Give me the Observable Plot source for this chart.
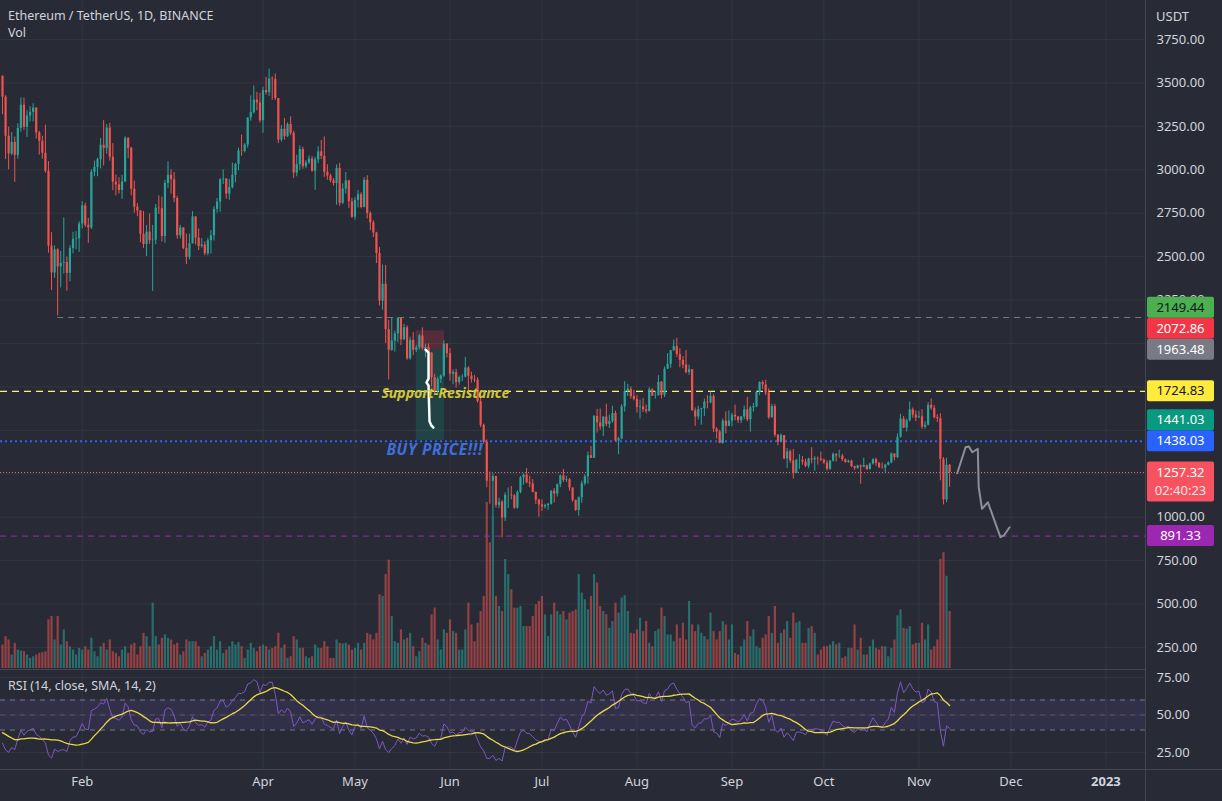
<!DOCTYPE html>
<html><head><meta charset="utf-8">
<script src="https://cdn.jsdelivr.net/npm/d3@7"></script>
<script src="https://cdn.jsdelivr.net/npm/@observablehq/plot@0.6"></script>
<style>
html,body{margin:0;padding:0;background:#282b36;}
#wrap{position:relative;width:1222px;height:801px;overflow:hidden;background:#282b36;font-family:"Noto Sans",sans-serif;color:#d1d4dc;}
#wrap > .layer{position:absolute;left:0;}
.lbl{position:absolute;font-size:12.5px;color:#d1d4dc;white-space:nowrap;}
.hline{position:absolute;background:#434651;}
.note-buy{letter-spacing:0.6px;}
</style></head>
<body><div id="wrap"></div>
<script>
// ---------------- DATA ----------------
// Daily candles ETH/USDT, 2022-01-06 .. 2022-11-11 (open = previous close)
const firstDate = "2022-01-06";
const warmupCloses = [4587,4519,4240,4101,4198,4347,4309,4433,4111,3895,4076,4135,3782,3862,4020,3963,3882,3960,3924,3938,4019,3979,4108,4047,4093,4062,4036,3792,3628,3713,3676,3765,3829,3761,3794,3538];
const closes = [
// Jan
3418,3193,3091,3157,3083,3238,3372,3245,3310,3331,3355,3212,3164,3095,2991,2561,2406,2539,2441,2461,2466,2404,2546,2600,2603,2688,
// Feb
2792,2680,2666,2986,3014,3058,3141,3122,3240,3072,2928,2913,2881,2931,3181,3123,2888,2785,2763,2628,2570,2641,2592,2595,2779,2776,2616,2921,
// Mar
2969,2943,2835,2620,2665,2547,2496,2574,2729,2607,2558,2567,2517,2592,2620,2772,2814,2942,2946,2860,2897,2968,3031,3108,3106,3142,3298,3329,3401,3385,3282,
// Apr
3456,3444,3522,3520,3410,3171,3233,3190,3261,3210,2981,3029,3117,3018,3040,3062,2992,3057,3103,3077,2986,2964,2937,2921,3008,2807,2889,2936,2816,2727,
// May
2824,2857,2783,2940,2748,2695,2636,2518,2244,2341,2080,1961,2014,2056,2145,2022,2091,1912,2018,1961,1975,2043,1972,1978,1945,1803,1725,1794,1812,1996,1942,
// Jun
1823,1834,1775,1804,1806,1859,1812,1793,1789,1665,1529,1432,1208,1207,1234,1068,1087,995,1127,1127,1123,1052,1143,1226,1243,1198,1192,1143,1098,1071,
// Jul
1059,1067,1074,1150,1134,1187,1238,1212,1216,1168,1097,1039,1112,1192,1233,1354,1339,1580,1543,1519,1576,1533,1551,1597,1439,1450,1635,1724,1737,1694,1678,
// Aug
1631,1635,1618,1608,1733,1697,1699,1777,1702,1852,1880,1958,1982,1936,1903,1876,1833,1849,1612,1577,1620,1624,1662,1658,1695,1507,1491,1426,1553,1523,1553,
// Sep
1587,1577,1556,1577,1618,1561,1629,1636,1718,1775,1762,1715,1573,1637,1472,1432,1470,1336,1377,1324,1252,1327,1328,1317,1293,1335,1330,1337,1335,1328,
// Oct
1311,1276,1323,1362,1352,1352,1331,1315,1323,1291,1280,1295,1288,1297,1274,1306,1331,1310,1285,1283,1300,1314,1364,1344,1460,1565,1513,1555,1618,1588,1572,
// Nov
1578,1518,1530,1644,1627,1573,1567,1333,1100,1299,1257.32];
const highs = [
3540,3426,3245,3215,3188,3265,3414,3413,3340,3364,3380,3358,3221,3193,3257,3047,2638,2562,2545,2530,2723,2498,2563,2640,2644,2701,
2817,2808,2720,3000,3050,3067,3180,3283,3260,3267,3150,2969,2955,2968,3190,3185,3130,2935,2805,2765,2760,2680,2746,2680,2800,2850,2843,2940,
3046,3000,2985,2848,2680,2666,2630,2630,2759,2730,2659,2603,2586,2605,2650,2788,2835,2950,3000,2950,2944,3038,3037,3125,3200,3150,3300,3425,3482,3446,3440,
3475,3532,3580,3535,3552,3410,3255,3295,3270,3305,3222,3084,3138,3130,3052,3080,3076,3072,3132,3169,3189,3029,2975,2950,3028,3037,2919,2985,2940,2835,
2840,2881,2868,2955,2966,2758,2707,2640,2552,2452,2450,2134,2146,2072,2148,2146,2110,2102,2036,2063,1990,2053,2090,1996,1998,1947,1823,1806,1820,2016,2000,
1970,1847,1851,1812,1821,1919,1866,1835,1815,1803,1684,1536,1445,1260,1250,1235,1110,1097,1140,1168,1177,1130,1152,1235,1249,1280,1236,1217,1145,1105,
1100,1075,1080,1152,1165,1192,1243,1275,1236,1222,1168,1098,1117,1208,1245,1376,1407,1586,1621,1623,1580,1651,1588,1638,1610,1460,1648,1780,1764,1750,1730,
1700,1674,1684,1645,1746,1740,1725,1815,1781,1865,1942,1960,2020,2030,1970,1925,1960,1875,1849,1629,1638,1627,1680,1700,1720,1706,1515,1500,1565,1606,1612,
1598,1645,1580,1580,1640,1690,1638,1655,1725,1780,1785,1788,1739,1650,1650,1475,1480,1470,1395,1387,1390,1333,1360,1350,1335,1340,1400,1350,1347,1375,
1335,1325,1327,1370,1364,1385,1362,1336,1328,1328,1294,1299,1300,1340,1299,1311,1337,1340,1315,1313,1305,1318,1370,1365,1480,1592,1580,1566,1663,1629,1611,
1610,1620,1550,1660,1680,1642,1590,1595,1344,1340,1303];
const lows = [
3317,3060,3000,3081,2928,3061,3216,3228,3186,3275,3276,3177,3085,3061,2980,2520,2305,2375,2159,2320,2400,2301,2355,2516,2540,2525,
2660,2668,2577,2656,2960,2960,3005,3022,3089,3050,2880,2850,2860,2830,2926,3064,2850,2750,2730,2580,2548,2500,2570,2300,2568,2743,2584,2577,
2893,2860,2810,2600,2602,2540,2455,2481,2573,2567,2535,2549,2505,2505,2515,2590,2750,2756,2915,2830,2825,2890,2925,2995,3078,3097,3125,3280,3320,3340,3270,
3210,3430,3421,3400,3400,3150,3160,3170,3185,3197,2950,2960,2996,3003,3006,3030,2986,2882,3035,3059,2956,2940,2926,2906,2796,2790,2800,2860,2778,2720,
2710,2780,2775,2780,2717,2650,2610,2460,2216,2192,2000,1790,1955,1950,2005,1988,2016,1904,1903,1930,1948,1963,1960,1919,1934,1750,1704,1712,1770,1805,1917,
1784,1762,1743,1760,1780,1802,1729,1772,1775,1657,1516,1422,1170,1075,1008,1053,1050,881,975,1051,1100,1046,1047,1135,1184,1192,1170,1140,1074,1000,
1033,1048,1040,1070,1082,1116,1170,1200,1200,1150,1086,1033,1006,1080,1180,1190,1338,1339,1485,1501,1464,1521,1510,1540,1435,1360,1445,1605,1695,1680,1670,
1600,1565,1602,1595,1607,1695,1680,1698,1680,1689,1853,1857,1955,1920,1860,1855,1825,1817,1610,1523,1559,1530,1580,1624,1653,1487,1450,1423,1420,1480,1522,
1521,1555,1540,1540,1561,1550,1490,1605,1630,1700,1735,1700,1562,1570,1460,1410,1430,1330,1280,1310,1220,1252,1275,1300,1285,1280,1307,1265,1300,1320,
1305,1265,1270,1318,1318,1340,1320,1310,1310,1285,1270,1277,1190,1285,1270,1273,1300,1293,1280,1276,1255,1295,1307,1325,1338,1455,1510,1490,1548,1570,1550,
1569,1506,1507,1525,1615,1565,1545,1210,1071,1084,1172];
// Volume, thousand ETH
const volumes = [
420,570,510,240,450,330,312,300,240,180,210,240,270,282,300,870,930,510,930,420,
690,480,390,330,240,360,330,390,330,540,300,210,390,450,330,510,300,270,210,330,
390,270,420,450,240,390,630,570,390,1170,570,420,540,600,540,510,420,450,240,300,
510,480,480,480,390,210,270,330,390,570,330,480,270,330,390,480,420,462,390,180,
330,450,360,300,390,420,390,330,360,390,630,360,420,180,210,570,510,360,360,210,
180,210,420,360,
360,480,390,180,180,510,450,438,450,420,330,360,450,330,450,630,600,510,630,1320,
1290,1680,1938,930,480,450,690,510,540,630,390,210,300,540,450,420,960,1080,510,330,
690,630,870,660,630,330,330,690,1170,780,480,810,1020,1290,
2970,2250,2730,1290,1110,1020,1950,1680,1410,1080,1080,1110,750,750,750,930,1140,1200,1290,960,
570,960,1170,1020,960,1020,870,990,1020,1050,1680,1350,1230,1050,1290,1680,1530,1110,1020,960,
720,840,1170,990,
1260,1302,1020,630,618,690,900,660,840,450,390,660,702,1080,930,600,600,480,780,540,
810,510,1200,780,660,780,630,570,510,990,660,510,660,840,780,510,780,270,240,390,
510,840,570,690,390,360,540,600,930,630,1110,450,630,690,840,540,990,810,840,450,
450,720,750,630,240,330,390,390,420,480,420,450,180,210,360,360,780,330,540,240,
240,390,510,360,330,390,390,210,360,510,942,1050,720,702,750,420,450,450,810,510,
780,330,390,510,1950,2070,1650,1020];

// axis ticks
const priceTicks = [250,500,750,1000,1250,1500,1750,2000,2250,2500,2750,3000,3250,3500,3750];
const rsiTicks = [25,50,75];
const monthTickDates = ["2022-02-01","2022-04-01","2022-05-01","2022-06-01","2022-07-01","2022-08-01","2022-09-01","2022-10-01","2022-11-01","2022-12-01"];
const monthTickLabels = ["Feb","Apr","May","Jun","Jul","Aug","Sep","Oct","Nov","Dec"];
const yearTickDates = ["2023-01-01"];
const yearTickLabels = ["2023"];

// drawings
const hLines = [
  {value:2149.44, from:"2022-01-24", color:"#787b86", dash:"6,5", width:1},
  {value:1724.83, from:null, color:"#fff176", dash:"7,5", width:1.2},
  {value:1438.03, from:null, color:"#2962ff", dash:"2,3", width:2},
  {value:1257.32, from:null, color:"#e86a6a", dash:"1,2", width:1},
  {value:891.33, from:null, color:"#9c27b0", dash:"6,5", width:1}
];
const shortPosition = {from:"2022-05-21T00:00Z", to:"2022-05-30T06:00Z", entry:1963.48, stop:2072.86, target:1441.03};
const bracketPath = [["2022-05-24T00:00Z",1965],["2022-05-25T00:00Z",1948],["2022-05-25T00:00Z",1798],["2022-05-24T08:00Z",1775],["2022-05-25T00:00Z",1758],["2022-05-25T08:00Z",1551],["2022-05-25T22:00Z",1528],["2022-05-26T14:00Z",1516]];
const projectionPath = [["2022-11-13T12:00Z",1253],["2022-11-16T05:00Z",1403],["2022-11-17T07:00Z",1407],["2022-11-18T10:00Z",1374],["2022-11-20T05:00Z",1394],["2022-11-20T12:00Z",1173],["2022-11-21T14:00Z",1048],["2022-11-23T12:00Z",1086],["2022-11-27T14:00Z",885],["2022-11-28T17:00Z",895],["2022-11-30T14:00Z",942]];
const noteTexts = [
  {date:"2022-05-30T12:00Z", price:1712, text:"Support-Resistance", color:"#cfc53a", size:14, cls:"note-sr"},
  {date:"2022-05-27T00:00Z", price:1384, text:"BUY PRICE!!!", color:"#3f6fdc", size:15.5, cls:"note-buy"}
];
const priceLabels = [
  {value:2149.44, bg:"#4caf50", fg:"#131722"},
  {value:2072.86, bg:"#f23645", fg:"#ffffff"},
  {value:1963.48, bg:"#787b86", fg:"#ffffff"},
  {value:1724.83, bg:"#ffeb3b", fg:"#131722"},
  {value:1441.03, bg:"#089981", fg:"#ffffff"},
  {value:1438.03, bg:"#2962ff", fg:"#ffffff"},
  {value:1257.32, bg:"#f7525f", fg:"#ffffff", sub:"02:40:23"},
  {value:891.33, bg:"#9c27b0", fg:"#ffffff"}
];
const rsiBands = {upper:60, middle:50, lower:40};

// ---------------- BUILD ----------------
const W = 1222, MR = 77, MAIN_H = 669;
const FONT = "'Noto Sans', sans-serif";
const UP = "#26a69a", DN = "#ef5350", GRID = "#32363f";
const xDomain = [new Date("2022-01-05T08:20:00Z"), new Date("2023-01-13T22:05:00Z")];
const yDomain = [123.4, 3974.5];
const t0 = new Date(firstDate + "T00:00:00Z");
const candles = closes.map((c, i) => {
  const o = i ? closes[i-1] : warmupCloses[warmupCloses.length-1];
  return {date: d3.utcDay.offset(t0, i), open:o, close:c, high:Math.max(highs[i],o,c), low:Math.min(lows[i],o,c), vol:volumes[i], up:c>=o};
});
// RSI (14, Wilder) + SMA 14
const all = warmupCloses.concat(closes);
const rsiAll = new Array(all.length).fill(NaN);
let au = 0, ad = 0;
for (let i = 1; i < all.length; i++) {
  const ch = all[i]-all[i-1], u = Math.max(ch,0), d = Math.max(-ch,0);
  if (i <= 14) { au += u/14; ad += d/14; if (i < 14) continue; }
  else { au = (au*13+u)/14; ad = (ad*13+d)/14; }
  rsiAll[i] = ad === 0 ? 100 : 100 - 100/(1+au/ad);
}
const smaAll = rsiAll.map((_, i) => i < 27 ? NaN : d3.mean(rsiAll.slice(i-13, i+1)));
const off = warmupCloses.length;
const rsiData = candles.map((c, i) => ({date:c.date, rsi:rsiAll[off+i], sma:smaAll[off+i]}));

const allTickDates = monthTickDates.concat(yearTickDates).map(d => new Date(d + "T00:00:00Z"));
const wrap = document.getElementById("wrap");
const common = {width:W, marginLeft:0, marginRight:MR, x:{type:"utc", domain:xDomain, axis:null}, color:{type:"identity"},
  style:{background:"transparent", fontFamily:FONT, fontSize:"13px", color:"#d1d4dc", overflow:"visible"}};

// price label boxes: stacked so they don't collide (computed from the price scale)
const yMain = d3.scaleLinear().domain(yDomain).range([MAIN_H, 0]);
const BH = 21;
const stacked = priceLabels.map(p => ({...p, cy:yMain(p.value)})).sort((a,b) => b.cy - a.cy);
{ let prevTop = Infinity;
  for (const it of stacked) { const c = Math.min(it.cy, prevTop - BH/2); it.top = c - BH/2; it.h = it.sub ? 40 : BH; prevTop = it.top; } }
// axis tick labels hidden when fully covered by the price label boxes (as in the reference)
const covered = yy => stacked.some(b => yy >= b.top - 0.5 && yy <= b.top + b.h + 0.5);
const visibleTicks = priceTicks.filter(t => { const yy = yMain(t); return !(covered(yy - 4) && covered(yy) && covered(yy + 4)); });

// layer 1: grid + price axis
const gridPlot = Plot.plot({...common, height:MAIN_H, marginTop:0, marginBottom:0,
  y:{domain:yDomain, axis:null},
  marks:[
    Plot.ruleY(priceTicks, {stroke:GRID}),
    Plot.ruleX(allTickDates, {stroke:GRID}),
    Plot.axisY(visibleTicks, {anchor:"right", tickSize:0, tickPadding:11, tickFormat:d => d.toFixed(2), label:null, fontSize:13})
  ]});
// layer 2: volume
const volPlot = Plot.plot({...common, height:MAIN_H, marginTop:0, marginBottom:1,
  y:{domain:[0, 11950], axis:null},
  marks:[
    Plot.ruleX(candles, {x:"date", y1:0, y2:"vol", stroke:d => d.up ? "rgba(38,166,154,0.55)" : "rgba(239,83,80,0.55)", strokeWidth:2.2})
  ]});
// layer 3: candles + drawings
const endDate = xDomain[1];
const sp = shortPosition;
const candlePlot = Plot.plot({...common, height:MAIN_H, marginTop:0, marginBottom:0,
  y:{domain:yDomain, axis:null},
  marks:[
    Plot.rect([{x1:new Date(sp.from), x2:new Date(sp.to), y1:sp.entry, y2:sp.stop, f:"rgba(242,54,69,0.22)"},
               {x1:new Date(sp.from), x2:new Date(sp.to), y1:sp.target, y2:sp.entry, f:"rgba(8,153,129,0.22)"}],
      {x1:"x1", x2:"x2", y1:"y1", y2:"y2", fill:"f"}),
    ...hLines.map(h => Plot.ruleY([h], {y:"value", x1:d => d.from ? new Date(d.from+"T00:00:00Z") : xDomain[0], x2:() => endDate,
      stroke:h.color, strokeDasharray:h.dash, strokeWidth:h.width})),
    Plot.ruleX(candles, {x:"date", y1:"low", y2:"high", stroke:d => d.up ? UP : DN, strokeWidth:1}),
    Plot.ruleX(candles, {x:"date", y1:"open", y2:"close", stroke:d => d.up ? UP : DN, strokeWidth:2.2}),
    Plot.line(bracketPath, {x:d => new Date(d[0]), y:d => d[1], stroke:"#ffffff", strokeWidth:2.5, strokeLinejoin:"round", strokeLinecap:"round"}),
    Plot.line(projectionPath, {x:d => new Date(d[0]), y:d => d[1], stroke:"#8d9099", strokeWidth:2}),
    ...noteTexts.map(n => Plot.text([n], {x:d => new Date(d.date), y:"price", text:"text", fill:"color", fontSize:n.size, fontWeight:"bold", fontStyle:"italic", className:n.cls}))
  ]});

{
  const svg = d3.select(candlePlot);
  const g = svg.append("g").attr("font-family", FONT).attr("font-size", 13);
  for (const it of stacked) {
    g.append("rect").attr("x", 1147).attr("y", it.top).attr("width", 67).attr("height", it.h).attr("rx", 2).attr("fill", it.bg);
    g.append("text").attr("x", 1180.5).attr("y", it.top + BH/2).attr("dy", "0.35em").attr("text-anchor", "middle").attr("fill", it.fg).text(it.value.toFixed(2));
    if (it.sub) g.append("text").attr("x", 1180.5).attr("y", it.top + 29).attr("dy", "0.35em").attr("text-anchor", "middle").attr("fill", "#ffe0e2").text(it.sub);
  }
}

// RSI pane + time axis
const rsiPlot = Plot.plot({...common, height:132, marginTop:1, marginBottom:32,
  y:{domain:[13.67, 79.67], axis:null},
  marks:[
    Plot.ruleX(allTickDates, {stroke:GRID}),
    Plot.ruleY(rsiTicks, {stroke:GRID}),
    Plot.rect([rsiBands], {x1:() => xDomain[0], x2:() => xDomain[1], y1:"lower", y2:"upper", fill:"rgba(126,87,194,0.13)"}),
    Plot.ruleY([rsiBands.upper, rsiBands.lower], {stroke:"#787b86", strokeDasharray:"5,5"}),
    Plot.ruleY([rsiBands.middle], {stroke:"rgba(120,123,134,0.5)", strokeDasharray:"5,5"}),
    Plot.line(rsiData, {x:"date", y:"rsi", stroke:"#7e57c2", strokeWidth:1}),
    Plot.line(rsiData, {x:"date", y:"sma", stroke:"#e8d94a", strokeWidth:1.3}),
    Plot.axisY(rsiTicks, {anchor:"right", tickSize:0, tickPadding:11, tickFormat:d => d.toFixed(2), label:null, fontSize:13}),
    Plot.text(monthTickDates, {x:d => new Date(d+"T00:00:00Z"), text:(d,i) => monthTickLabels[i], frameAnchor:"bottom", dy:16, fill:"#d1d4dc", fontSize:13}),
    Plot.text(yearTickDates, {x:d => new Date(d+"T00:00:00Z"), text:(d,i) => yearTickLabels[i], frameAnchor:"bottom", dy:16, fill:"#d1d4dc", fontSize:13, fontWeight:"bold"})
  ]});

function place(el, top) { el.classList.add("layer"); el.style.top = top + "px"; wrap.appendChild(el); }
place(gridPlot, 0); place(volPlot, 0); place(candlePlot, 0); place(rsiPlot, 669);

function line(l, t, w, h) { const d = document.createElement("div"); d.className = "hline"; Object.assign(d.style, {left:l+"px", top:t+"px", width:w+"px", height:h+"px"}); wrap.appendChild(d); }
line(0, 669, 1145, 1); line(0, 769, 1222, 1); line(1145, 0, 1, 801);

function label(text, l, t, extra) { const d = document.createElement("div"); d.className = "lbl"; d.textContent = text; d.style.left = l+"px"; d.style.top = t+"px"; if (extra) Object.assign(d.style, extra); wrap.appendChild(d); }
label("Ethereum / TetherUS, 1D, BINANCE", 8, 7);
label("Vol", 8, 24);
label("RSI (14, close, SMA, 14, 2)", 8, 677);
label("USDT", 1156, 7, {fontSize:"13px"});
</script></body></html>
